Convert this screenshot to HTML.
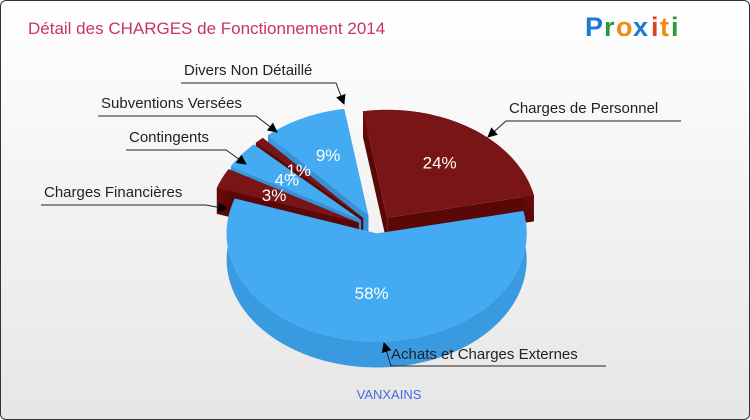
<!DOCTYPE html>
<html><head><meta charset="utf-8"><style>
html,body{margin:0;padding:0}
body{width:750px;height:420px;overflow:hidden;font-family:"Liberation Sans",sans-serif}
#wrap{position:absolute;left:0;top:0;width:748px;height:418px;border:1px solid #333;border-radius:6px;background:linear-gradient(#ffffff,#e6e6e6);overflow:hidden}
</style></head><body>
<div id="wrap">
<svg id="chart" width="748" height="418">
<defs><marker id="arr" markerWidth="10" markerHeight="10" refX="9" refY="5" orient="auto"><path d="M0,0 L10,5 L0,10 z" fill="#000"/></marker></defs>
<text x="27" y="33" font-size="17" fill="#c8336a">Détail des CHARGES de Fonctionnement 2014</text>
<g font-size="27" font-weight="bold" font-family="'Liberation Sans',sans-serif">
<text x="584" y="35" fill="#1a7ad4">P</text><text x="603" y="35" fill="#2a9a3a">r</text><text x="615" y="35" fill="#f08a10">o</text><text x="632" y="35" fill="#1a7ad4">x</text><text x="650" y="35" fill="#e04020">i</text><text x="659" y="35" fill="#f08a10">t</text><text x="670" y="35" fill="#2a9a3a">i</text></g>
<g id="sides"></g><g id="tops"></g><g id="labels"></g>
<text x="388" y="398" font-size="13" fill="#4a6ae0" text-anchor="middle">VANXAINS</text>
</svg></div>
<script>
const categories=["Achats et Charges Externes","Charges Financières","Contingents","Subventions Versées","Divers Non Détaillé","Charges de Personnel"];
const values=[58,3,4,1,9,24];
const pctLabels=["58%","3%","4%","1%","9%","24%"];
const isRed=[false,true,false,true,false,true];
const explode=[6,20,20,20,20,18];
const startDeg=-12;
const cx=376,cy=228,rx=150,ry=108,depth=26;
const total=values.reduce((a,b)=>a+b,0);
const NS="http://www.w3.org/2000/svg";
function mk(tag,attrs,parent){const e=document.createElementNS(NS,tag);for(const k in attrs)e.setAttribute(k,attrs[k]);parent.appendChild(e);return e;}
const sidesG=document.getElementById('sides'),topsG=document.getElementById('tops'),labG=document.getElementById('labels');
let acc=0;const slices=[];const st=startDeg*Math.PI/180;
values.forEach((v,i)=>{const a0=st+acc/total*2*Math.PI;acc+=v;const a1=st+acc/total*2*Math.PI;const m=(a0+a1)/2;
const ox=Math.cos(m)*explode[i],oy=Math.sin(m)*explode[i]*0.75;slices.push({i,a0,a1,m,x:cx+ox,y:cy+oy});});
function pt(s,a,d){return [s.x+rx*Math.cos(a),s.y+ry*Math.sin(a)+d];}
function arcPts(s,a0,a1,d){const p=[];const n=Math.max(4,Math.ceil((a1-a0)*40));for(let k=0;k<=n;k++){p.push(pt(s,a0+(a1-a0)*k/n,d));}return p;}
const ord=[...slices].sort((a,b)=>Math.sin(a.m)-Math.sin(b.m));
ord.forEach(s=>{const red=isRed[s.i];const sc=red?"#650909":"#3a9ae0";const sc2=red?"#5a0707":"#3590d6";
 const g=mk('g',{},sidesG);
 
 
 [s.a0,s.a1].forEach(a=>{const e=pt(s,a,0);mk('polygon',{points:`${s.x},${s.y} ${e[0]},${e[1]} ${e[0]},${e[1]+depth} ${s.x},${s.y+depth}`,fill:sc2},g);});
 const top=arcPts(s,s.a0,s.a1,0),bot=arcPts(s,s.a0,s.a1,depth).reverse();
 mk('polygon',{points:top.concat(bot).map(p=>p.join(',')).join(' '),fill:sc},g);});
slices.forEach(s=>{const red=isRed[s.i];const p=arcPts(s,s.a0,s.a1,0);
 const path=mk('polygon',{points:[[s.x,s.y]].concat(p).map(q=>q.join(',')).join(' '),fill:red?"#7a1517":"#44aaf2"},topsG);
 
 
 const r=s.i===0?0.55:0.62;const tx=s.x+rx*r*Math.cos(s.m),ty=s.y+ry*r*Math.sin(s.m)+6;
 const t=mk('text',{x:tx,y:ty,'text-anchor':'middle','font-size':17,fill:'#fff'},topsG);t.textContent=pctLabels[s.i];
 
 });
const callouts=[
 {i:0,tx:390,ty:358,line:[[605,365],[390,365],[383,342]]},
 {i:1,tx:43,ty:196,line:[[40,204],[205,204],[226,208]]},
 {i:2,tx:128,ty:141,line:[[125,149],[225,149],[245,163]]},
 {i:3,tx:100,ty:107,line:[[97,115],[255,115],[276,131]]},
 {i:4,tx:183,ty:74,line:[[180,82],[335,82],[343,103]]},
 {i:5,tx:508,ty:112,line:[[680,120],[505,120],[487,136]]}];
callouts.forEach(c=>{const g=mk('g',{},labG);
 
 
 const t=mk('text',{x:c.tx,y:c.ty,'font-size':15,fill:'#222'},g);t.textContent=categories[c.i];
 mk('polyline',{points:c.line.map(p=>p.join(',')).join(' '),fill:'none',stroke:'#222','stroke-width':1,'marker-end':'url(#arr)'},g);});
</script>
</body></html>
